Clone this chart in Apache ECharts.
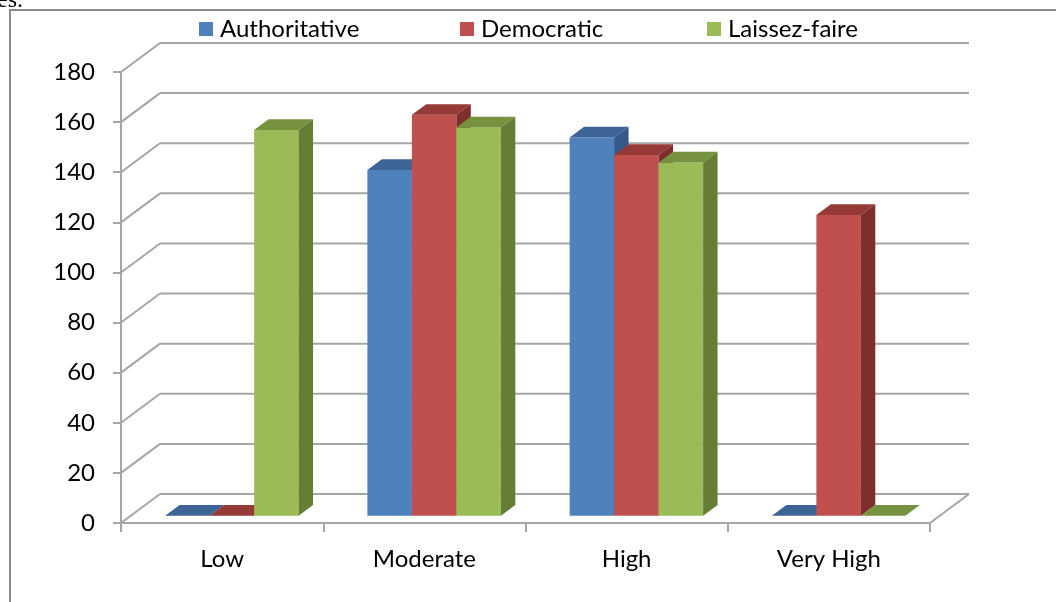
<!DOCTYPE html>
<html>
<head>
<meta charset="utf-8">
<script src="https://cdn.jsdelivr.net/npm/echarts@6/dist/echarts.min.js"></script>
<style>
html,body{margin:0;padding:0;background:#fff;}
#chart{width:1056px;height:602px;}
</style>
</head>
<body>
<div id="chart"></div>
<script>
const categories = ['Low', 'Moderate', 'High', 'Very High'];
const authoritative = [0, 138, 151, 0];
const democratic = [0, 160, 144, 120];
const laissezFaire = [154, 155, 141, 0];
const yTicks = [0, 20, 40, 60, 80, 100, 120, 140, 160, 180];

const seriesNames = ['Authoritative', 'Democratic', 'Laissez-faire'];
const seriesValues = [authoritative, democratic, laissezFaire];
const faceColors = [
  { front: '#4F81BD', top: '#3C6494', side: '#34598A' },
  { front: '#C0504D', top: '#953A37', side: '#7E2F2D' },
  { front: '#9BBB59', top: '#77923F', side: '#667D35' }
];
const legendLefts = [194, 455, 702];

const DX = 39, DY = -29;      // back-wall offset
const F1 = 0.25, F2 = 0.62;   // bar front/back depth fractions
const GRID_COLOR = '#A6A6A6';
const FONT = 'Lato';
const FS = 24;

function barRenderer(k) {
  return function (params, api) {
    const ci = api.value(0), v = api.value(1);
    const band = api.size([1, 0])[0];
    const base = api.coord([ci, 0]);
    const top = api.coord([ci, v]);
    const bw = band * 0.22;
    const x0 = base[0] - 1.5 * bw + k * bw + DX * F1;
    const x1 = x0 + bw;
    const yb = base[1] + DY * F1;
    const yt = top[1] + DY * F1;
    const ddx = DX * (F2 - F1), ddy = DY * (F2 - F1);
    const c = faceColors[k];
    return {
      type: 'group',
      children: [
        { type: 'polygon', shape: { points: [[x0, yb], [x1, yb], [x1, yt], [x0, yt]] }, style: { fill: c.front } },
        { type: 'polygon', shape: { points: [[x0, yt], [x1, yt], [x1 + ddx, yt + ddy], [x0 + ddx, yt + ddy]] }, style: { fill: c.top } },
        { type: 'polygon', shape: { points: [[x1, yt], [x1 + ddx, yt + ddy], [x1 + ddx, yb + ddy], [x1, yb]] }, style: { fill: c.side } }
      ]
    };
  };
}

function gridRenderer(params, api) {
  const cs = params.coordSys;
  const left = cs.x, right = cs.x + cs.width;
  const v = api.value(1);
  const y = api.coord([0, v])[1];
  const ls = { stroke: GRID_COLOR, lineWidth: 2, fill: null };
  const children = [
    { type: 'line', shape: { x1: left + DX, y1: y + DY, x2: right + DX, y2: y + DY }, style: ls },
    { type: 'line', shape: { x1: left, y1: y, x2: left + DX, y2: y + DY }, style: ls }
  ];
  if (v === 0) {
    children.push({ type: 'line', shape: { x1: right, y1: y, x2: right + DX, y2: y + DY }, style: ls });
  }
  return { type: 'group', children: children };
}

const chart = echarts.init(document.getElementById('chart'), null, { renderer: 'canvas' });

const series = [{
  name: 'grid3d',
  type: 'custom',
  renderItem: gridRenderer,
  data: yTicks.map(v => [0, v]),
  encode: { x: 0, y: 1 },
  silent: true,
  z: 1
}];
seriesNames.forEach((name, k) => {
  series.push({
    name: name,
    type: 'custom',
    renderItem: barRenderer(k),
    itemStyle: { color: faceColors[k].front },
    data: seriesValues[k].map((v, i) => [i, v]),
    encode: { x: 0, y: 1 },
    z: 2 + k
  });
});

const legends = seriesNames.map((name, k) => ({
  data: [name],
  left: legendLefts[k],
  top: 12,
  padding: 5,
  icon: 'rect',
  itemWidth: 14,
  itemHeight: 14,
  selectedMode: false,
  textStyle: { fontFamily: FONT, fontSize: FS, color: '#000', padding: [0, 0, 0, 2] }
}));

chart.setOption({
  animation: false,
  backgroundColor: '#fff',
  textStyle: { fontFamily: FONT },
  graphic: [
    { type: 'polyline', shape: { points: [[10, 602], [10, 10], [1056, 10]] }, style: { stroke: '#8C8C8C', lineWidth: 2, fill: null } },
    { type: 'text', left: -3, top: -11, style: { text: 'es.', font: '24px "Liberation Serif"', fill: '#000' } }
  ],
  legend: legends,
  grid: { left: 121, right: 126, top: 72, bottom: 79 },
  xAxis: {
    type: 'category',
    data: categories,
    axisLine: { show: true, lineStyle: { color: GRID_COLOR, width: 2 } },
    axisTick: { show: true, length: 9, lineStyle: { color: GRID_COLOR, width: 2 } },
    axisLabel: { color: '#000', fontFamily: FONT, fontSize: FS, margin: 24 },
    splitLine: { show: false }
  },
  yAxis: {
    type: 'value',
    min: 0,
    max: 180,
    interval: 20,
    axisLine: { show: true, lineStyle: { color: GRID_COLOR, width: 2 } },
    axisTick: { show: true, length: 8, lineStyle: { color: GRID_COLOR, width: 2 } },
    axisLabel: { color: '#000', fontFamily: FONT, fontSize: FS, margin: 26 },
    splitLine: { show: false }
  },
  series: series
});
</script>
</body>
</html>
